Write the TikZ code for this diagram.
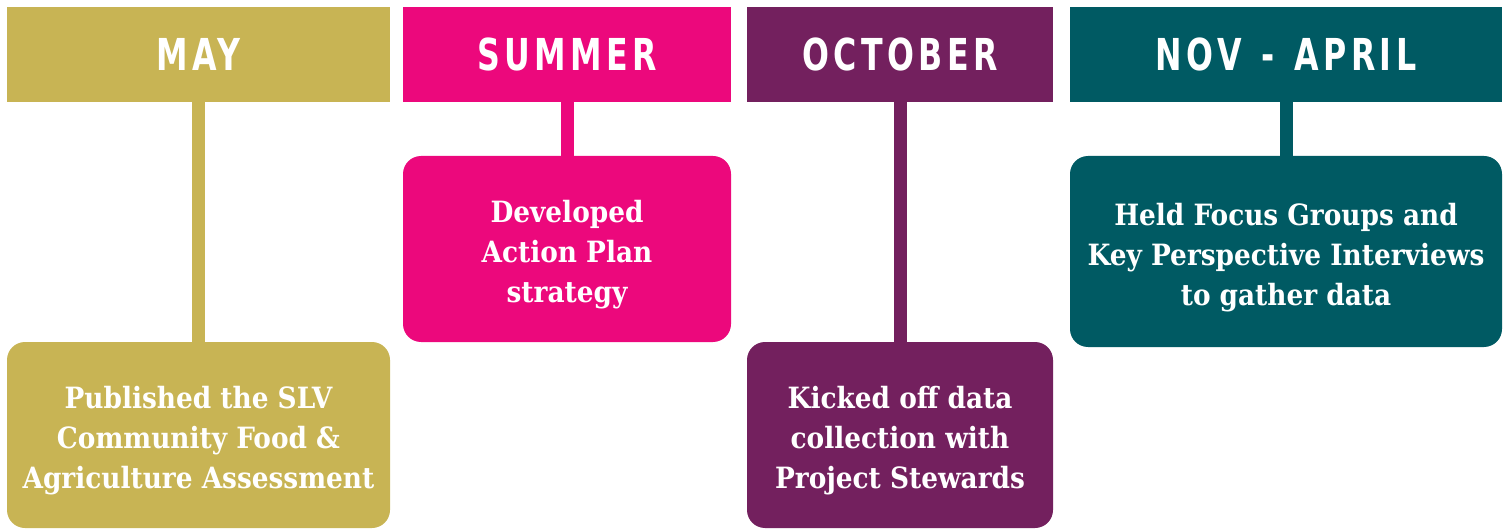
\documentclass[tikz,border=0pt]{standalone}
\usepackage{fontspec}
\setmainfont{DejaVu Serif Condensed}
\newfontfamily\headfont[LetterSpace=10,FakeStretch=0.8]{DejaVu Sans Condensed}
\definecolor{cgold}{RGB}{200,180,84}
\definecolor{cpink}{RGB}{236,8,124}
\definecolor{cplum}{RGB}{115,32,94}
\definecolor{cteal}{RGB}{0,90,99}
\tikzset{
  hdr/.style={rectangle, inner sep=0pt, text=white, font=\headfont\bfseries\fontsize{44}{44}\selectfont},
  card/.style={rectangle, rounded corners=18pt, inner sep=0pt},
  cardtext/.style={inner sep=0pt, text=white, align=center, yshift=-6pt, font=\bfseries\fontsize{29.3}{40}\selectfont},
  link/.style={line width=13pt}
}
\begin{document}
\begin{tikzpicture}[x=1pt,y=-1pt]
\useasboundingbox (0,0) rectangle (1510,529);
\node[hdr, fill=cgold, minimum width=383pt, minimum height=95pt] (h1) at (198.5,54.5) {MAY};
\node[hdr, fill=cpink, minimum width=328pt, minimum height=95pt] (h2) at (567,54.5) {SUMMER};
\node[hdr, fill=cplum, minimum width=306pt, minimum height=95pt] (h3) at (900,54.5) {OCTOBER};
\node[hdr, fill=cteal, minimum width=432pt, minimum height=95pt] (h4) at (1286,54.5) {NOV\hspace{20pt}-\hspace{20pt}APRIL};
\node[card, fill=cgold, minimum width=383pt, minimum height=186pt] (b1) at (198.5,435) {};
\node[card, fill=cpink, minimum width=328pt, minimum height=186pt] (b2) at (567,249) {};
\node[card, fill=cplum, minimum width=306pt, minimum height=186pt] (b3) at (900,435) {};
\node[card, fill=cteal, minimum width=432pt, minimum height=191pt] (b4) at (1286,251.5) {};
\node[cardtext] (t1) at (b1) {Published the SLV\\Community Food \&\\Agriculture Assessment};
\node[cardtext] (t2) at (b2) {Developed\\Action Plan\\strategy};
\node[cardtext] (t3) at (b3) {Kicked off data\\collection with\\Project Stewards};
\node[cardtext] (t4) at (b4) {Held Focus Groups and\\Key Perspective Interviews\\to gather data};
\draw[link, cgold] (h1.south) -- (b1.north);
\draw[link, cpink] (h2.south) -- (b2.north);
\draw[link, cplum] (h3.south) -- (b3.north);
\draw[link, cteal] (h4.south) -- (b4.north);
\end{tikzpicture}
\end{document}
